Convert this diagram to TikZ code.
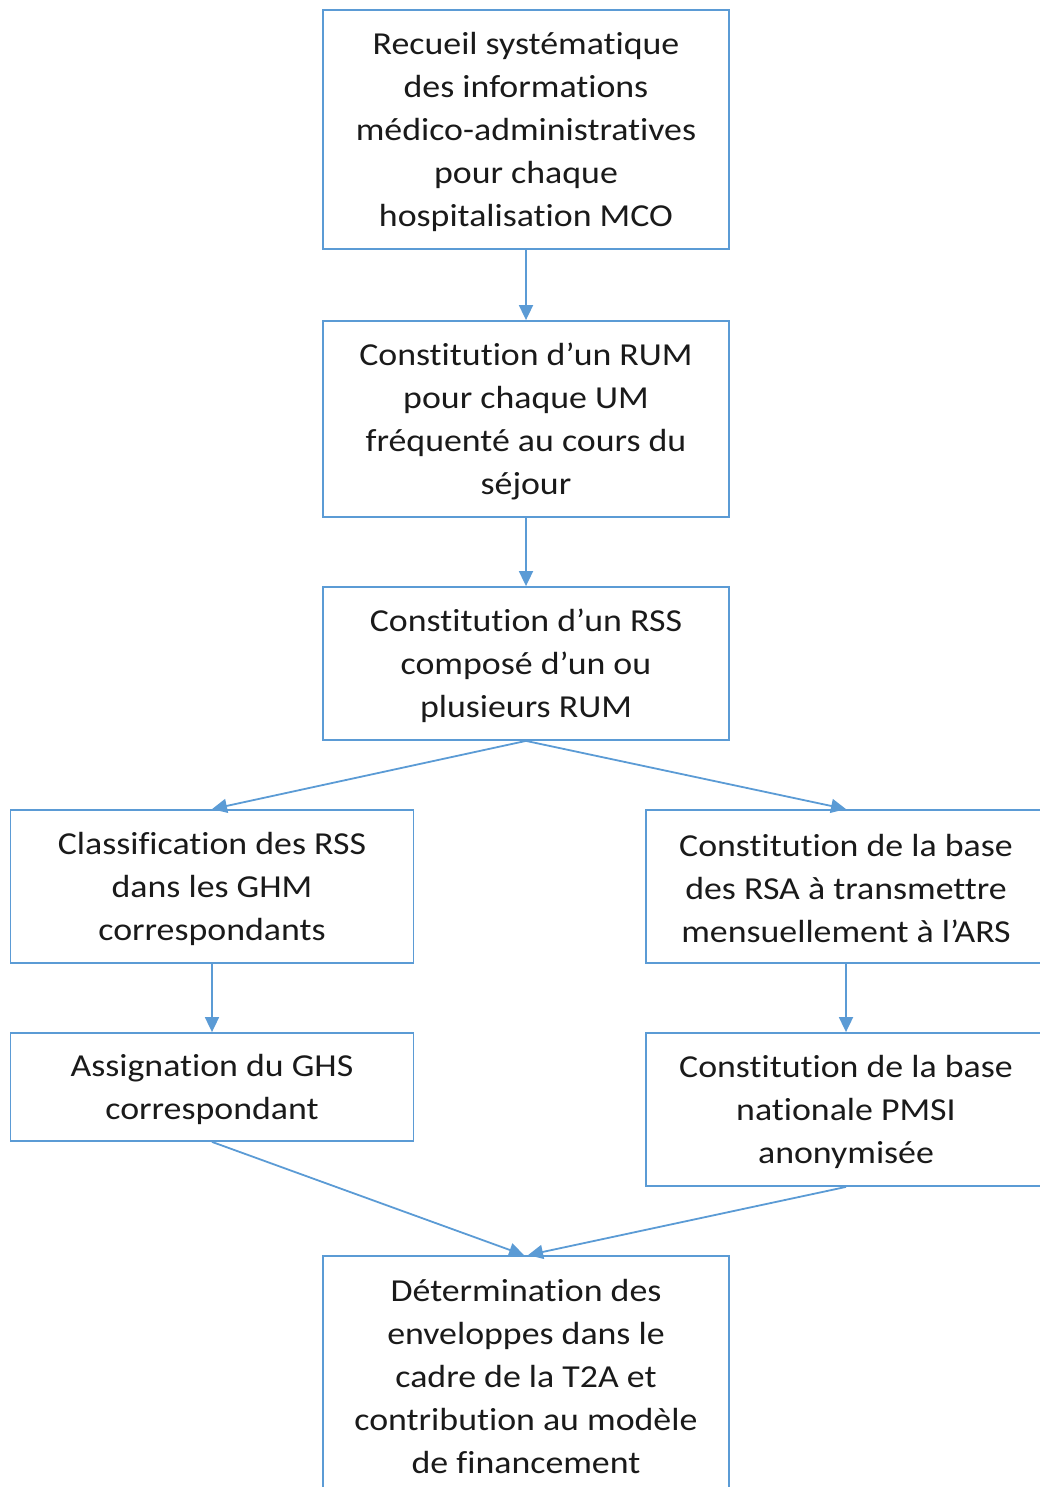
\documentclass[tikz,border=0pt]{standalone}
\usepackage{fontspec}
\setmainfont{Carlito}[FakeStretch=1.12,Ligatures=NoCommon]
\usetikzlibrary{arrows.meta}
\definecolor{boxblue}{HTML}{5B9BD5}
\definecolor{txt}{HTML}{1A1A1A}
\begin{document}
\begin{tikzpicture}[x=1pt,y=-1pt,
  box/.style={draw=boxblue,line width=1.8pt,fill=white,rectangle,inner sep=0pt},
  boxtext/.style={inner sep=0pt,align=center,text=txt,font=\fontsize{32}{43}\selectfont},
  conn/.style={draw=boxblue,line width=1.8pt,-{Triangle[length=15pt,width=14pt]}}]
\useasboundingbox (0,0) rectangle (1040,1487);
\clip (0,0) rectangle (1040,1487);
\node[box,minimum width=406pt,minimum height=239pt] (b1) at (526,129.5) {};
\node[boxtext] (t1) at ([yshift=-2pt]b1.center)
  {Recueil systématique\\des informations\\médico-administratives\\pour chaque\\hospitalisation MCO};
\node[box,minimum width=406pt,minimum height=196pt] (b2) at (526,419) {};
\node[boxtext] (t2) at ([yshift=-2pt]b2.center)
  {Constitution d’un RUM\\pour chaque UM\\fréquenté au cours du\\séjour};
\node[box,minimum width=406pt,minimum height=153pt] (b3) at (526,663.5) {};
\node[boxtext] (t3) at ([yshift=-2pt]b3.center)
  {Constitution d’un RSS\\composé d’un ou\\plusieurs RUM};
\node[box,minimum width=403pt,minimum height=153pt] (b4) at (212,886.5) {};
\node[boxtext] (t4) at ([yshift=-2pt]b4.center)
  {Classification des RSS\\dans les GHM\\correspondants};
\node[box,minimum width=400pt,minimum height=153pt] (b5) at (846,886.5) {};
\node[boxtext] (t5) at ([yshift=-2pt]b5.center)
  {Constitution de la base\\des RSA à transmettre\\mensuellement à l’ARS};
\node[box,minimum width=403pt,minimum height=108pt] (b6) at (212,1087) {};
\node[boxtext] (t6) at ([yshift=-2pt]b6.center)
  {Assignation du GHS\\correspondant};
\node[box,minimum width=400pt,minimum height=153pt] (b7) at (846,1109.5) {};
\node[boxtext] (t7) at ([yshift=-2pt]b7.center)
  {Constitution de la base\\nationale PMSI\\anonymisée};
\node[box,minimum width=406pt,minimum height=236pt] (b8) at (526,1374) {};
\node[boxtext] (t8) at ([yshift=-2pt]b8.center)
  {Détermination des\\enveloppes dans le\\cadre de la T2A et\\contribution au modèle\\de financement};
\draw[conn] (b1.south) -- (b2.north);
\draw[conn] (b2.south) -- (b3.north);
\draw[conn] (b3.south) -- (b4.north);
\draw[conn] (b3.south) -- (b5.north);
\draw[conn] (b4.south) -- (b6.north);
\draw[conn] (b5.south) -- (b7.north);
\draw[conn] (b6.south) -- ([xshift=-2pt]b8.north);
\draw[conn] (b7.south) -- ([xshift=2pt]b8.north);
\end{tikzpicture}
\end{document}
